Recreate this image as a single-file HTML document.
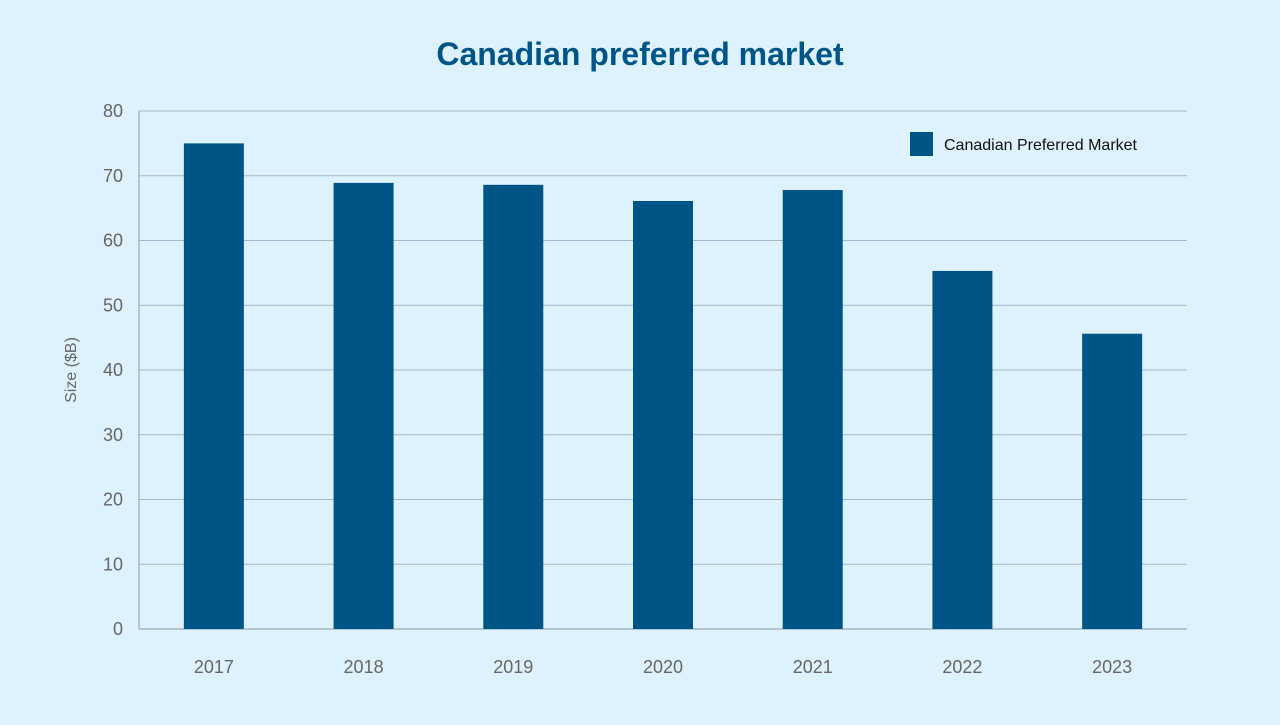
<!DOCTYPE html>
<html><head><meta charset="utf-8"><style>
html,body{margin:0;padding:0;background:#ddf2fc;}
body{width:1280px;height:720px;overflow:hidden;font-family:"Liberation Sans",sans-serif;}
</style></head><body>
<svg id="chart" width="1280" height="720" xmlns="http://www.w3.org/2000/svg">
<rect x="0" y="0" width="1280" height="720" fill="#ddf2fc"/>
<text x="640" y="65" text-anchor="middle" font-size="32" font-weight="bold" fill="#005587">Canadian preferred market</text>
<text transform="translate(76,370) rotate(-90)" text-anchor="middle" font-size="16" fill="#666">Size ($B)</text>
<g id="grid"></g><g id="bars"></g><g id="xlabels"></g>
<g>
<rect x="910" y="132" width="23" height="24" fill="#005587"/>
<text x="944" y="150" font-size="16" fill="#111">Canadian Preferred Market</text>
</g>
</svg>
<script>
const categories=["2017","2018","2019","2020","2021","2022","2023"];
const values=[75,68.9,68.6,66.1,67.8,55.3,45.6];
const yTicks=[0,10,20,30,40,50,60,70,80];
const NS="http://www.w3.org/2000/svg";
const x0=139,x1=1187,yBase=629,yTop=111,yMax=80;
const y=v=>yBase-(yBase-yTop)*v/yMax;
const band=(x1-x0)/categories.length;
const xc=i=>x0+band*(i+0.5);
function mk(tag,attrs,parent,txt){const e=document.createElementNS(NS,tag);for(const k in attrs)e.setAttribute(k,attrs[k]);if(txt!==undefined)e.textContent=txt;document.getElementById(parent).appendChild(e);return e;}
yTicks.forEach(t=>{
  const l=mk("line",{x1:x0,x2:x1,y1:y(t),y2:y(t),stroke:t===0?"#8a9aa5":"#a6b8c2","stroke-width":1},"grid");
  
  
  const tx=mk("text",{x:123,y:y(t)+6,"text-anchor":"end","font-size":18,fill:"#666"},"grid",t);
  
  
});
const axis=mk("line",{x1:x0,x2:x0,y1:yTop,y2:yBase,stroke:"#8a9aa5","stroke-width":1},"grid");


categories.forEach((c,i)=>{
  const b=mk("rect",{x:xc(i)-30,y:y(values[i]),width:60,height:yBase-y(values[i]),fill:"#005587"},"bars");
  
  
  const t=mk("text",{x:xc(i),y:673,"text-anchor":"middle","font-size":18,fill:"#666"},"xlabels",c);
  
  
});
</script>
</body></html>
